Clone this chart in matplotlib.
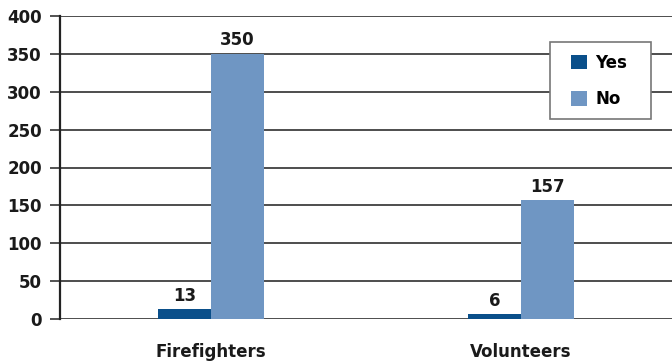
import numpy as np
import matplotlib.pyplot as plt
from matplotlib import font_manager
from matplotlib.patches import Rectangle

# data
groups = ["Firefighters", "Volunteers"]
yes_vals = [13, 6]
no_vals = [350, 157]
series_names = ["Yes", "No"]
y_ticks = [0, 50, 100, 150, 200, 250, 300, 350, 400]

names = {f.name for f in font_manager.fontManager.ttflist}
fam = "Liberation Sans Narrow" if "Liberation Sans Narrow" in names else "DejaVu Sans"
plt.rcParams['font.family'] = [fam, 'DejaVu Sans']
plt.rcParams['font.weight'] = 'bold'

W, H = 672, 362
fig = plt.figure(figsize=(W / 100, H / 100), dpi=100)
ax = fig.add_axes([60 / W, 1 - 319 / H, 1 - 60 / W, 303 / H])

x = np.arange(len(groups))
w = 0.17
c_yes = "#0a4f8a"
c_no = "#6f96c3"
b1 = ax.bar(x - w / 2, yes_vals, w, color=c_yes, label=series_names[0], zorder=3)
b2 = ax.bar(x + w / 2, no_vals, w, color=c_no, label=series_names[1], zorder=3)

for bars in (b1, b2):
    for b in bars:
        ax.text(b.get_x() + b.get_width() / 2, b.get_height() + 6, str(int(b.get_height())),
                ha='center', va='bottom', fontsize=12, fontweight='bold', color='#1a1a1a')

ax.set_ylim(0, 400)
ax.set_xlim(-0.487, 1.487)
ax.set_yticks(y_ticks)
ax.set_xticks(x)
ax.set_xticklabels(groups)
ax.tick_params(axis='y', length=7, width=1.3, color='#444444', labelsize=12, pad=6)
ax.tick_params(axis='x', length=0, labelsize=12, pad=17)
for lab in ax.get_xticklabels() + ax.get_yticklabels():
    lab.set_fontweight('bold')
    lab.set_color('#1a1a1a')

ax.grid(axis='y', color='#4d4d4d', linewidth=1.4, zorder=0)
ax.set_axisbelow(True)
for s in ['top', 'right', 'bottom']:
    ax.spines[s].set_visible(False)
ax.spines['left'].set_color('#222222')
ax.spines['left'].set_linewidth(1.6)

# legend: separate box (x 550..651, y 42..119 px) with frameless legend inside
box = Rectangle((550 / W, 1 - 119 / H), 101 / W, 77 / H, transform=fig.transFigure,
                facecolor='white', edgecolor='#777777', linewidth=1.2, zorder=4)
fig.patches.append(box)
leg = fig.legend(handles=[b1, b2], labels=series_names, loc='upper left',
                 bbox_to_anchor=(571 / W, 1 - 54 / H),
                 fontsize=12, frameon=False, handlelength=0.95, handleheight=0.95,
                 labelspacing=1.1, borderpad=0, handletextpad=0.5, borderaxespad=0)
leg.set_zorder(5)

fig.savefig("out.png", dpi=100)
